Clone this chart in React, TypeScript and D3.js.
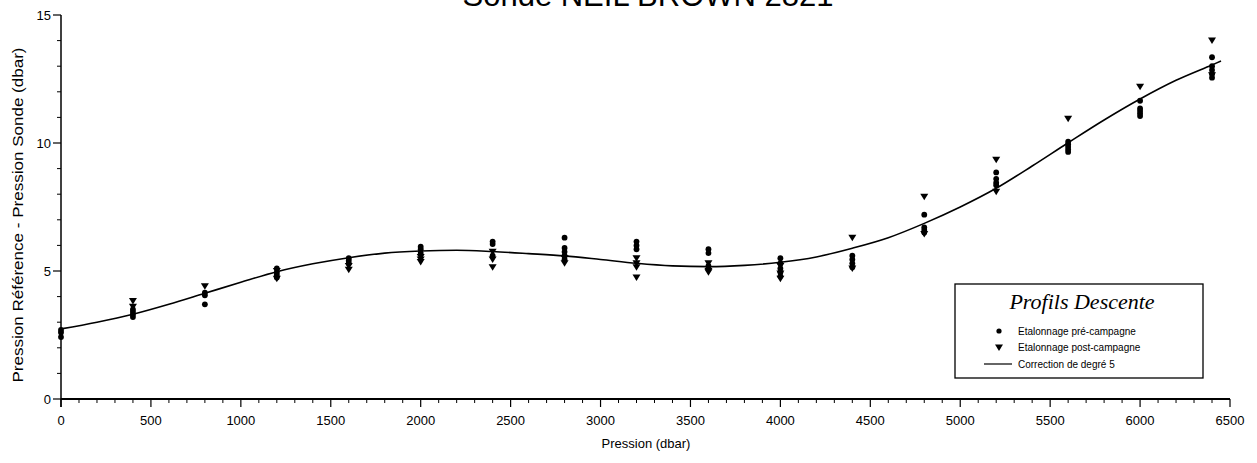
import React from "react";
import * as d3 from "d3";

const W = 1257;
const H = 463;

// Pressure levels (dbar) and measured differences
const preX: number[] = [0,0,0, 400,400,400,400, 800,800,800, 1200,1200,1200,1200, 1600,1600,1600, 2000,2000,2000, 2400,2400,2400, 2800,2800,2800,2800,2800, 3200,3200,3200, 3600,3600,3600,3600, 4000,4000,4000,4000,4000, 4400,4400,4400,4400, 4800,4800,4800,4800, 5200,5200,5200,5200, 5600,5600,5600,5600,5600, 6000,6000,6000,6000,6000, 6400,6400,6400,6400,6400];
const preY: number[] = [2.7,2.6,2.42, 3.5,3.4,3.3,3.2, 4.15,4.05,3.7, 5.1,4.95,4.85,4.75, 5.5,5.4,5.3, 5.95,5.85,5.7, 6.15,6.05,5.6, 6.3,5.9,5.75,5.6,5.45, 6.15,6.0,5.85, 5.85,5.7,5.2,5.1, 5.5,5.3,5.1,4.95,4.8, 5.6,5.45,5.3,5.15, 7.2,6.7,6.6,6.5, 8.85,8.6,8.45,8.35, 10.05,9.95,9.85,9.75,9.65, 11.65,11.35,11.25,11.15,11.05, 13.35,13.0,12.85,12.7,12.55];
const postX: number[] = [400,400, 800, 1200,1200, 1600,1600, 2000,2000,2000, 2400,2400,2400, 2800,2800, 3200,3200,3200,3200, 3600,3600,3600, 4000,4000,4000, 4400,4400, 4800,4800, 5200,5200, 5600, 6000, 6400,6400];
const postY: number[] = [3.83,3.6, 4.4, 5.0,4.7, 5.2,5.05, 5.55,5.45,5.35, 5.75,5.45,5.15, 5.5,5.3, 5.5,5.3,5.15,4.75, 5.3,5.0,4.95, 5.2,4.9,4.7, 6.3,5.1, 7.9,6.45, 9.35,8.1, 10.95, 12.2, 14.0,12.65];
// Degree-5 correction curve
const fitX: number[] = [0,200,400,600,800,1000,1200,1400,1600,1800,2000,2200,2400,2600,2800,3000,3200,3400,3600,3800,4000,4200,4400,4600,4800,5000,5200,5400,5600,5800,6000,6200,6400,6450];
const fitY: number[] = [2.74,3.0,3.31,3.7,4.13,4.56,4.97,5.28,5.52,5.7,5.78,5.81,5.76,5.68,5.59,5.45,5.3,5.2,5.17,5.22,5.34,5.55,5.89,6.3,6.86,7.5,8.23,9.1,10.01,10.9,11.72,12.45,13.05,13.2];

const xTicks: number[] = [0,500,1000,1500,2000,2500,3000,3500,4000,4500,5000,5500,6000,6500];
const yTicks: number[] = [0,5,10,15];

const title = "Sonde NEIL BROWN 2821";
const xLabel = "Pression (dbar)";
const yLabel = "Pression Référence - Pression Sonde (dbar)";
const legendTitle = "Profils Descente";
const legendItems = ["Etalonnage pré-campagne", "Etalonnage post-campagne", "Correction de degré 5"];

export default function App() {
  const x = d3.scaleLinear().domain([0, 6500]).range([61, 1230]);
  const y = d3.scaleLinear().domain([0, 15]).range([399, 15]);
  const minorX = d3.range(0, 6501, 100).filter((v) => v % 500 !== 0);
  const minorY = d3.range(0, 16, 1).filter((v) => v % 5 !== 0);
  const line = d3
    .line<number>()
    .x((_, i) => x(fitX[i]))
    .y((d) => y(d))
    .curve(d3.curveMonotoneX);
  const tri = (cx: number, cy: number) =>
    `M${cx - 4},${cy - 3}L${cx + 4},${cy - 3}L${cx},${cy + 3.5}Z`;
  const font = "'Liberation Sans', Arial, sans-serif";
  const lx = 955, ly = 284, lw = 248, lh = 94;
  return (
    <svg width={W} height={H} style={{ position: "absolute", left: 0, top: 0, background: "#fff" }}>
      <rect x={0} y={0} width={W} height={H} fill="#fff" />
      <text x={648} y={6} textAnchor="middle" fontFamily={font} fontSize={31} fill="#000">{title}</text>
      {/* axes */}
      <line x1={x(0)} x2={x(0)} y1={y(15)} y2={y(0) + 8} stroke="#000" strokeWidth={1.5} />
      <line x1={x(0)} x2={x(6500)} y1={y(0)} y2={y(0)} stroke="#000" strokeWidth={1.8} />
      {yTicks.map((t) => (
        <g key={"yt" + t}>
          <line x1={x(0) - 8} x2={x(0)} y1={y(t)} y2={y(t)} stroke="#000" strokeWidth={1.2} />
          <text x={x(0) - 10} y={y(t) + 4.5} textAnchor="end" fontFamily={font} fontSize={13} fill="#000">{t}</text>
        </g>
      ))}
      {minorY.map((t) => (
        <line key={"ym" + t} x1={x(0) - 4} x2={x(0)} y1={y(t)} y2={y(t)} stroke="#000" strokeWidth={1} />
      ))}
      {xTicks.map((t) => (
        <g key={"xt" + t}>
          <line x1={x(t)} x2={x(t)} y1={y(0)} y2={y(0) + 8} stroke="#000" strokeWidth={1.2} />
          <text x={x(t)} y={425} textAnchor="middle" fontFamily={font} fontSize={13} fill="#000">{t}</text>
        </g>
      ))}
      {minorX.map((t) => (
        <line key={"xm" + t} x1={x(t)} x2={x(t)} y1={y(0)} y2={y(0) + 4} stroke="#000" strokeWidth={1} />
      ))}
      <text x={646} y={448} textAnchor="middle" fontFamily={font} fontSize={13} fill="#000">{xLabel}</text>
      <text transform="translate(23,215) rotate(-90)" textAnchor="middle" fontFamily={font} fontSize={15} fill="#000" textLength={335} lengthAdjust="spacingAndGlyphs">{yLabel}</text>
      {/* fit */}
      <path d={line(fitY) || ""} fill="none" stroke="#000" strokeWidth={1.6} />
      {/* points */}
      {preY.map((v, i) => (
        <circle key={"p" + i} cx={x(preX[i])} cy={y(v)} r={2.9} fill="#000" />
      ))}
      {postY.map((v, i) => (
        <path key={"q" + i} d={tri(x(postX[i]), y(v))} fill="#000" />
      ))}
      {/* legend */}
      <rect x={lx} y={ly} width={lw} height={lh} fill="#fff" stroke="#000" strokeWidth={1.3} />
      <text x={lx + lw / 2 + 3} y={ly + 25} textAnchor="middle" fontFamily="'Liberation Serif', 'Times New Roman', serif" fontStyle="italic" fontSize={22} fill="#000">{legendTitle}</text>
      <circle cx={999} cy={ly + 47} r={2.6} fill="#000" />
      <path d={tri(999, ly + 63.5)} fill="#000" />
      <line x1={984} x2={1012} y1={ly + 80} y2={ly + 80} stroke="#000" strokeWidth={1.2} />
      {legendItems.map((s, i) => (
        <text key={s} x={1018} y={ly + 50.5 + i * 16.5} fontFamily={font} fontSize={10} fill="#000">{s}</text>
      ))}
    </svg>
  );
}
